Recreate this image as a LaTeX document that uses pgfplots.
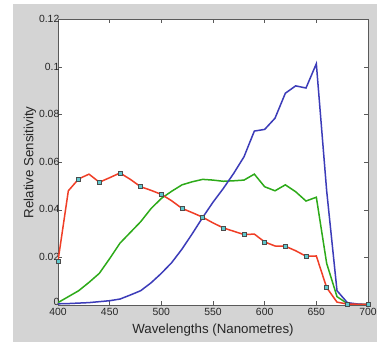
\documentclass[border=0pt]{standalone}
\usepackage{pgfplots}
\pgfplotsset{compat=1.18}
\usepackage{fontspec}
\setmainfont{Liberation Sans}
\definecolor{bgray}{RGB}{212,212,212}
\definecolor{cred}{RGB}{240,62,38}
\definecolor{cgreen}{RGB}{45,170,25}
\definecolor{cblue}{RGB}{60,60,185}
\definecolor{cmark}{RGB}{95,200,205}
\definecolor{axgray}{RGB}{90,90,90}
\begin{document}
\begin{tikzpicture}[x=1pt,y=1pt]
\fill[white] (0,0) rectangle (383,344);
\fill[bgray] (13,2) rectangle (377,340);
\begin{axis}[
  at={(58pt,39pt)}, anchor=south west,
  scale only axis, width=310pt, height=285.5pt,
  xmin=400, xmax=700, ymin=0, ymax=0.12,
  xtick={400,450,...,700},
  ytick={0.02,0.04,0.06,0.08,0.1,0.12},
  yticklabels={0.02,0.04,0.06,0.08,0.1,0.12},
  extra y ticks={0},
  extra y tick labels={0},
  extra y tick style={yticklabel style={yshift=3pt}},
  scaled y ticks=false,
  tick align=inside, major tick length=4pt,
  axis line style={axgray, line width=0.8pt},
  tick style={axgray, line width=0.6pt},
  axis background/.style={fill=white},
  tick label style={font=\fontsize{10.4}{12}\selectfont, text=black!85},
  /pgf/number format/assume math mode=true,
  xticklabel style={yshift=-3pt, inner sep=0.5pt},
  yticklabel style={xshift=2pt, yshift=0.5pt, inner sep=0.5pt},
  label style={font=\fontsize{13.3}{15}\selectfont, text=black!85},
  xlabel={Wavelengths (Nanometres)},
  ylabel={Relative Sensitivity},
  xlabel style={yshift=-4pt},
  ylabel style={yshift=-1pt},
]
\addplot[cgreen, line width=1.5pt] coordinates {
(400,0.001) (410,0.0035) (420,0.006) (430,0.0095) (440,0.0133) (450,0.0195)
(460,0.026) (470,0.0305) (480,0.035) (490,0.0405) (500,0.0448) (510,0.0478)
(520,0.0505) (530,0.0518) (540,0.0528) (550,0.0525) (560,0.052) (570,0.0522)
(580,0.0525) (590,0.055) (600,0.0497) (610,0.048) (620,0.0505) (630,0.0476)
(640,0.0437) (650,0.0453) (660,0.0175) (670,0.0035) (680,0.0006) (690,0.0003)
(700,0.0002)};
\addplot[cblue, line width=1.5pt] coordinates {
(400,0.0005) (410,0.0006) (420,0.0008) (430,0.001) (440,0.0014) (450,0.0018)
(460,0.0025) (470,0.0042) (480,0.006) (490,0.0093) (500,0.0133) (510,0.0178)
(520,0.0235) (530,0.030) (540,0.0368) (550,0.0432) (560,0.0490) (570,0.0553)
(580,0.0623) (590,0.0731) (600,0.0738) (610,0.0785) (620,0.089) (630,0.0921)
(640,0.0912) (650,0.1014) (660,0.048) (670,0.006) (680,0.001) (690,0.0004)
(700,0.0002)};
\addplot[cred, line width=1.5pt, mark=square*, mark repeat=2, mark phase=1,
  mark size=2pt, mark options={fill=cmark, draw=black!70, line width=0.5pt, solid}] coordinates {
(400,0.0185) (410,0.048) (420,0.053) (430,0.055) (440,0.0516) (450,0.0535)
(460,0.0555) (470,0.0528) (480,0.0497) (490,0.0482) (500,0.0465) (510,0.0438)
(520,0.0406) (530,0.0388) (540,0.0369) (550,0.0345) (560,0.0324) (570,0.031)
(580,0.0296) (590,0.0298) (600,0.0265) (610,0.0248) (620,0.0247) (630,0.0228)
(640,0.0205) (650,0.0206) (660,0.0073) (670,0.0012) (680,0.0004) (690,0.0003)
(700,0.0002)};
\end{axis}
\end{tikzpicture}
\end{document}
